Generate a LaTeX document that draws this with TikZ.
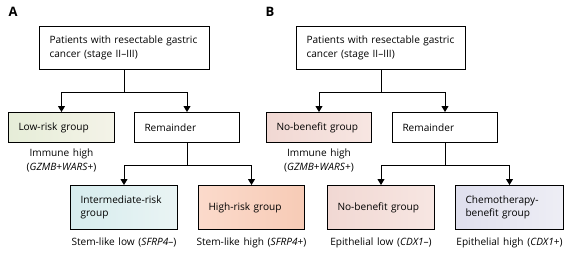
\documentclass[tikz,border=0pt]{standalone}
\usepackage{fontspec}
\setmainfont{Open Sans}[WordSpace=1.4]
\usetikzlibrary{arrows.meta,calc,positioning}

\definecolor{lowL}{HTML}{E6EDD8}
\definecolor{lowR}{HTML}{F4F3E8}
\definecolor{intL}{HTML}{D6ECEE}
\definecolor{intR}{HTML}{EAF4F4}
\definecolor{highL}{HTML}{FBDACB}
\definecolor{highR}{HTML}{F7CBB6}
\definecolor{nobL}{HTML}{F1D8D3}
\definecolor{nobR}{HTML}{F7E6E2}
\definecolor{chemL}{HTML}{DFDFED}
\definecolor{chemR}{HTML}{EEEEF5}

\tikzset{
  box/.style={draw=black, line width=1pt, anchor=north west, align=left,
    inner xsep=10pt, inner ysep=2pt, text width=86pt, minimum height=30pt},
  lbl/.style={align=center, inner sep=0pt},
  arr/.style={line width=1pt, -{Triangle[width=7pt,length=6pt]}},
  panel/.style={font=\fontsize{13}{13}\selectfont\bfseries, inner sep=0pt}
}

\begin{document}
\begin{tikzpicture}[x=1pt, y=-1pt, font=\fontsize{10.1}{13.5}\selectfont]
  \useasboundingbox (0,0) rectangle (577,255);
  % panel letters
  \node[panel] (pA) at (13,12) {A};
  \node[panel] (pB) at (270,12) {B};

  % panel A
  \node[box, text width=150pt, minimum height=43pt] (topA) at (39,26)
    {Patients with resectable gastric\\cancer (stage II--III)};
  \node[box, left color=lowL, right color=lowR] (leftA) at (8,112) {Low-risk group};
  \node[box, text width=85pt] (remA) at (134,112) {Remainder};
  \node[box, text width=87pt, minimum height=44pt, left color=intL, right color=intR] (blA) at (70,185)
    {Intermediate-risk\\group};
  \node[box, minimum height=44pt, left color=highL, right color=highR] (brA) at (198,185) {High-risk group};
  \node[lbl, below=6pt of leftA] (immA) {Immune high\\(\textit{GZMB}+\textit{WARS}+)};
  \node[lbl, below=8pt of blA] (stlA) {Stem-like low (\textit{SFRP4}--)};
  \node[lbl, below=8pt of brA] (sthA) {Stem-like high (\textit{SFRP4}+)};

  % panel B
  \node[box, text width=149pt, minimum height=43pt] (topB) at (296,26)
    {Patients with resectable gastric\\cancer (stage II--III)};
  \node[box, text width=85pt, left color=nobL, right color=nobR] (leftB) at (266,112) {No-benefit group};
  \node[box, text width=85pt] (remB) at (392,112) {Remainder};
  \node[box, text width=87pt, minimum height=44pt, left color=nobL, right color=nobR] (blB) at (327,185)
    {No-benefit group};
  \node[box, text width=88pt, minimum height=44pt, left color=chemL, right color=chemR] (brB) at (455,185)
    {Chemotherapy-\\benefit group};
  \node[lbl, below=6pt of leftB] (immB) {Immune high\\(\textit{GZMB}+\textit{WARS}+)};
  \node[lbl, below=8pt of blB] (eplB) {Epithelial low (\textit{CDX1}--)};
  \node[lbl, below=8pt of brB] (ephB) {Epithelial high (\textit{CDX1}+)};

  % connectors
  \foreach \p in {A,B}{
    \coordinate (s1\p) at ($(top\p.south)+(0,22)$);
    \coordinate (s2\p) at ($(rem\p.south)+(0,22)$);
    \draw[line width=1pt] (top\p.south) -- (s1\p);
    \draw[arr] (s1\p) -| (left\p.north);
    \draw[arr] (s1\p) -| (rem\p.north);
    \draw[line width=1pt] (rem\p.south) -- (s2\p);
    \draw[arr] (s2\p) -| (bl\p.north);
    \draw[arr] (s2\p) -| (br\p.north);
  }
\end{tikzpicture}
\end{document}
